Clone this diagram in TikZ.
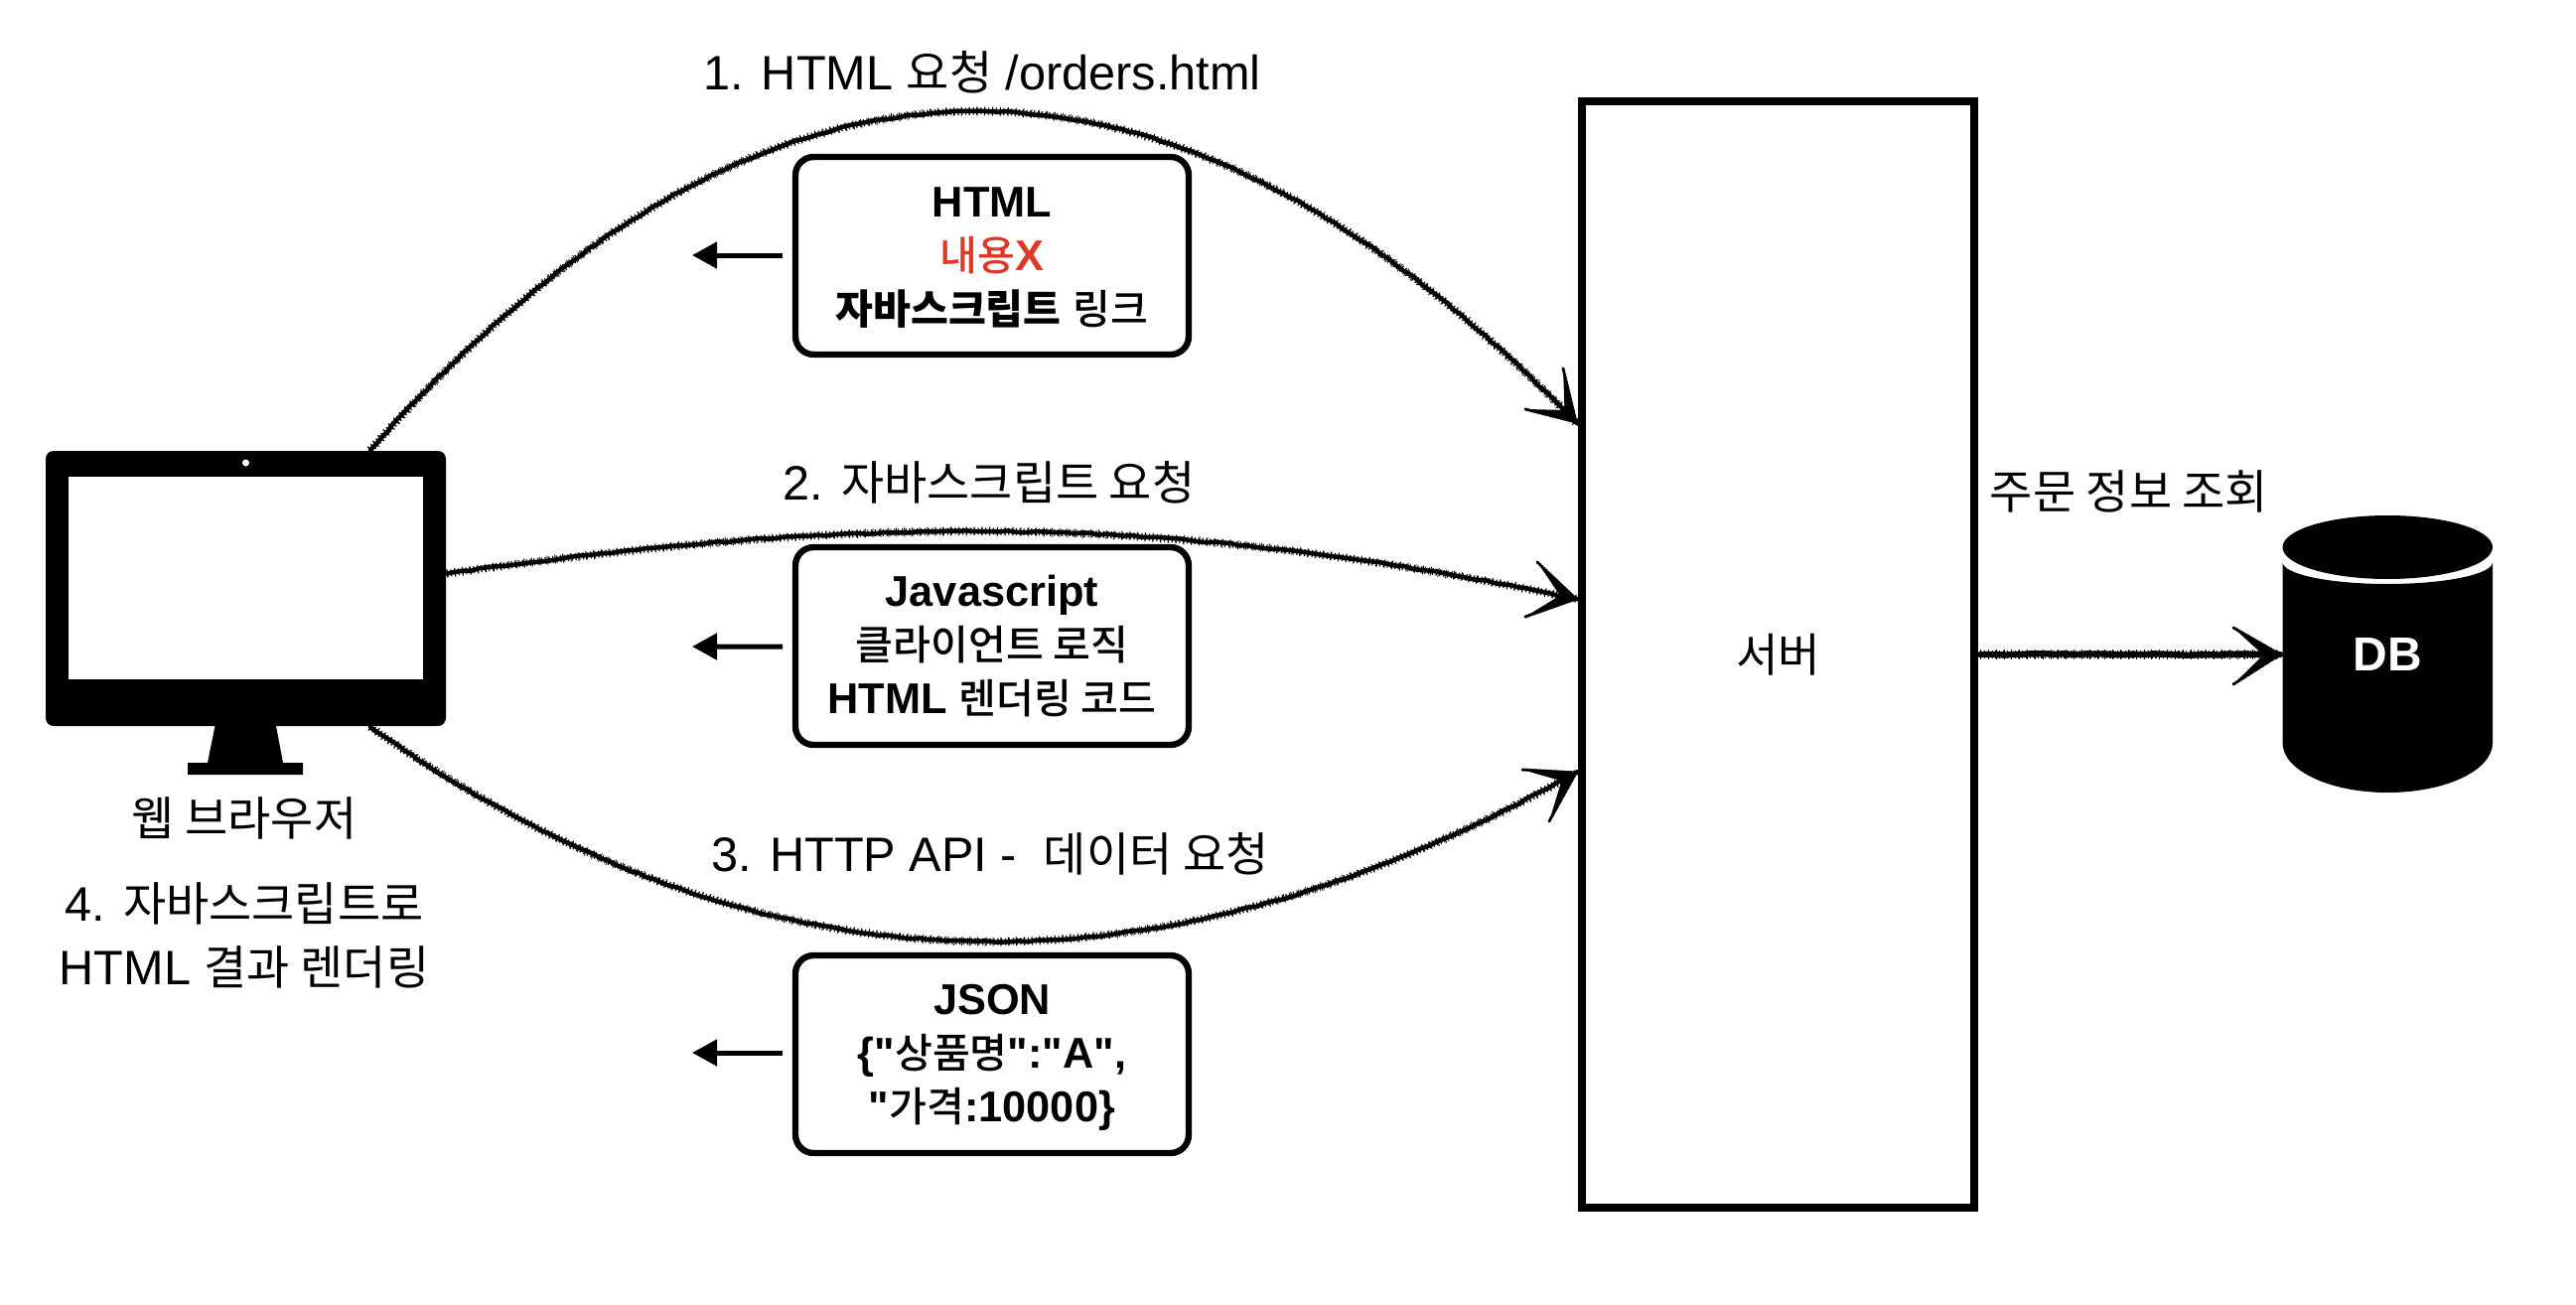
\documentclass[tikz,border=0pt]{standalone}
\usepackage{fontspec}
\setmainfont[Ligatures=TeXOff]{Liberation Sans}
\newfontfamily\krfont[Scale=0.965]{Noto Sans CJK KR}
\newfontfamily\krmed[Scale=0.95]{Noto Sans CJK KR Medium}
\newfontfamily\krbox[Scale=0.95]{Noto Sans CJK KR}
\newcommand\kr[1]{{\krfont\mdseries #1}}
\newcommand\km[1]{{\krmed\mdseries #1}}
\newcommand\kb[1]{{\krbox\bfseries #1}}
\usetikzlibrary{calc,decorations.pathmorphing,arrows.meta}
\definecolor{redtxt}{RGB}{222,56,38}
\tikzset{
  x=0.3pt,y=-0.3pt,
  lbl/.style={inner sep=0,outer sep=0,align=center,font=\fontsize{14.6}{19}\selectfont},
  boxnode/.style={draw=black,line width=1.9pt,fill=white,rounded corners=5.5pt,minimum width=118.8pt,minimum height=59.7pt,inner sep=0,outer sep=0,align=center,font=\fontsize{13}{16.2}\selectfont\bfseries},
  sketchcore/.style={line width=1.35pt,line cap=round,line join=round,decorate,decoration={random steps,segment length=2.5pt,amplitude=0.25pt}},
  hairsa/.style={line width=2.1pt,dash pattern=on .35pt off .8pt},
  hairsb/.style={line width=2.7pt,dash pattern=on .25pt off 2.1pt},
  sketch/.style={preaction={draw=black,sketchcore},preaction={draw=black,hairsa},preaction={draw=black,hairsb}},
  sketchwide/.style={preaction={draw=black,sketchcore,line width=1.9pt},preaction={draw=black,hairsa,line width=2.6pt},preaction={draw=black,hairsb,line width=3.1pt}},
  sketchbarb/.style={preaction={draw=black,line width=.9pt,dash pattern=on .5pt off .35pt,line cap=round}},
  backarrow/.style={draw=black,line width=1.5pt,-{Triangle[length=7.5pt,width=7.8pt]}},
}
\newcommand\barbs[3]{%
  \fill[black] (#1) -- (#2) -- ($(#1)!.36!($(#2)!.5!(#3)$)$) -- (#3) -- cycle;
  \path[sketchbarb] (#2) -- (#1);
  \path[sketchbarb] (#3) -- (#1);
}
\begin{document}
\begin{tikzpicture}
\useasboundingbox (0,0) rectangle (2594,1314);
\pgfmathsetseed{42}
% monitor
\node[fill=black,rounded corners=2.4pt,minimum width=120.9pt,minimum height=83.1pt,inner sep=0,outer sep=0] (mon) at (247.5,592.5) {};
\node[fill=white,minimum width=107.1pt,minimum height=61.2pt,inner sep=0,outer sep=0] (screen) at (247.5,582) {};
\node[fill=white,circle,minimum size=2.1pt,inner sep=0,outer sep=0] (cam) at (247.5,466) {};
\fill[black] (216.5,731) -- (278,731) -- (285,768) -- (305,768) -- (305,780) -- (189,780) -- (189,768) -- (209,768) -- cycle;
% server
\node[draw=black,line width=2.4pt,fill=white,minimum width=118.4pt,minimum height=334.3pt,inner sep=0,outer sep=0,font=\fontsize{14.4}{19}\selectfont] (server) at (1790.65,659) {\kr{서버}};
% db
\fill[black] (2298.5,566) -- (2298.5,748) arc[start angle=180,end angle=0,x radius=105.75,y radius=50] -- (2510,566) arc[start angle=0,end angle=180,x radius=105.75,y radius=22] -- cycle;
\fill[black] (2404.25,551) ellipse[x radius=105.75,y radius=32];
\node[inner sep=0,outer sep=0,text=white,font=\fontsize{14.4}{19}\selectfont\bfseries] (db) at (2404,659) {DB};
\coordinate (dbw) at (2296,659);
% connectors
\coordinate (s1) at ($(mon.north east)+(-76,-1)$);
\coordinate (t1) at ($(server.west)+(-6.3,-234)$);
\coordinate (s2) at ($(mon.east)+(1,-15)$);
\coordinate (t2) at ($(server.west)+(-6.3,-56)$);
\coordinate (s3) at ($(mon.south east)+(-76,1)$);
\coordinate (t3) at ($(server.west)+(-6.3,119)$);
\coordinate (s4) at ($(server.east)+(6,0)$);
\path[sketch] (s1) .. controls (773,3) and (1174,3) .. (t1);
\barbs{t1}{1574,371}{1536,412}
\path[sketch] (s2) .. controls (880,517) and (1177,517) .. (t2);
\barbs{t2}{1548,566}{1536,621}
\path[sketch] (s3) .. controls (770,1012) and (1170,1012) .. (t3);
\barbs{t3}{1533,775}{1560,827}
\path[sketchwide] (s4) -- (dbw);
\barbs{dbw}{2249,632}{2249,689}
% boxes
\node[boxnode] (b1) at (999,257.5) {\rule{0pt}{10pt}HTML\\\textcolor{redtxt}{\km{내용}X}\\\kb{자바스크립트} \km{링크}};
\node[boxnode] (b2) at (999,650.5) {Javascript\\\km{클라이언트 로직}\\HTML \km{렌더링 코드}};
\node[boxnode] (b3) at (999,1061.5) {\rule{0pt}{11pt}JSON\\\{"\km{상품명}":"A",\\"\km{가격}:10000\}};
\coordinate (r1) at (697,257);
\coordinate (r2) at (697,651);
\coordinate (r3) at (697,1060);
\draw[backarrow] ($(b1.west)+(-13,-0.5)$) -- (r1);
\draw[backarrow] ($(b2.west)+(-13,0.5)$) -- (r2);
\draw[backarrow] ($(b3.west)+(-13,-1.5)$) -- (r3);
% labels
\node[lbl] (l1) at (989,73) {1. HTML \kr{요청} /orders.html};
\node[lbl] (l2) at (996,486) {2. \kr{자바스크립트 요청}};
\node[lbl] (l3) at (997,860) {3. HTTP API -~ \kr{데이터 요청}};
\node[lbl] (l4) at (2144,495) {\kr{주문 정보 조회}};
\node[lbl] (l5) at (246,824) {\kr{웹 브라우저}};
\node[lbl] (l6) at (246,942) {4. \kr{자바스크립트로}\\HTML \kr{결과 렌더링}};
\end{tikzpicture}
\end{document}
